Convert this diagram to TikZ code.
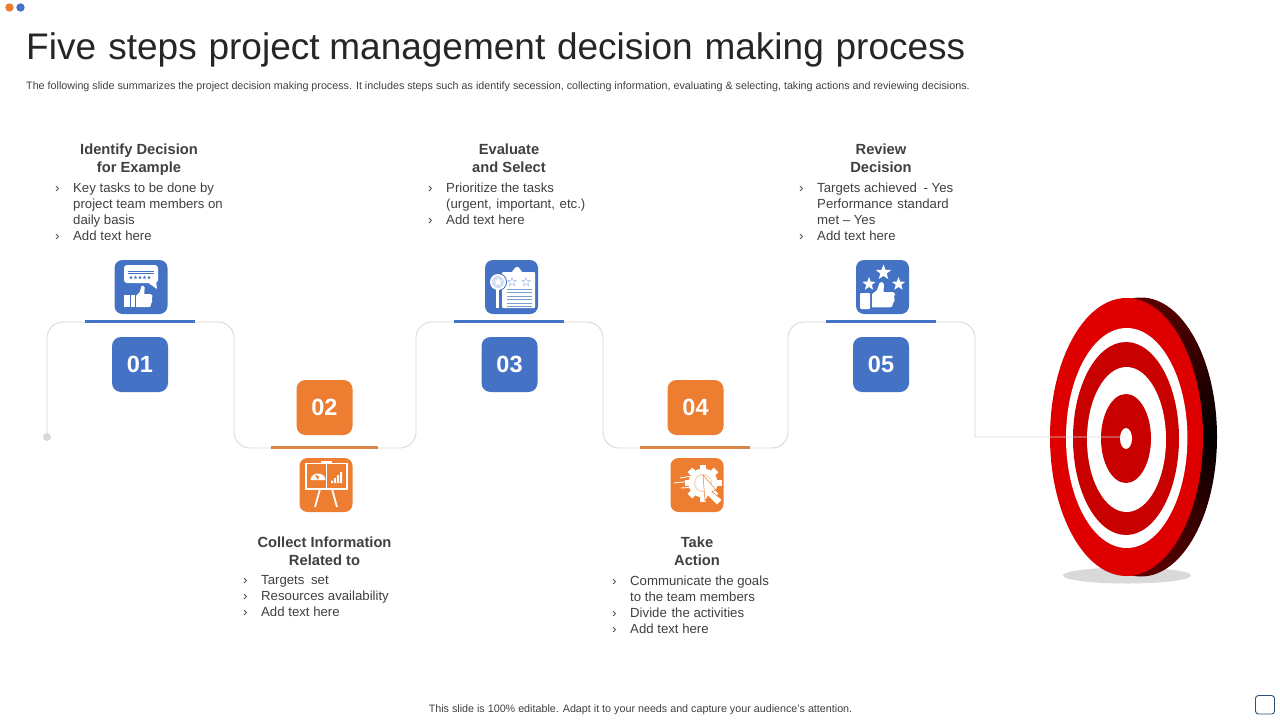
\documentclass[tikz,border=0pt]{standalone}
\usepackage{fontspec}
\setmainfont{Liberation Sans}
\usetikzlibrary{positioning}
\definecolor{stepblue}{HTML}{4472C4}
\definecolor{steporange}{HTML}{ED7D31}
\definecolor{barorange}{HTML}{D98548}
\definecolor{pathgray}{HTML}{D9D9D9}
\definecolor{textdark}{HTML}{404040}
\definecolor{titledark}{HTML}{262626}
\definecolor{targetred}{HTML}{DE0000}
\definecolor{targetdeep}{HTML}{C80000}
\definecolor{slatebox}{HTML}{2F5070}
\tikzset{
  numbox/.style={rounded corners=9pt, minimum width=56pt, minimum height=55pt, inner sep=0pt, text=white, font=\fontsize{23.5}{25}\selectfont\bfseries},
  iconbox/.style={rounded corners=8pt, minimum width=53pt, minimum height=54pt, inner sep=0pt},
  headtext/.style={align=center, anchor=north, text=textdark, font=\fontsize{14.7}{18}\selectfont\bfseries, inner sep=0pt},
  listtext/.style={align=left, text=textdark, anchor=north west, font=\fontsize{13.2}{16}\selectfont, inner sep=0pt},
  smalltext/.style={text=textdark, inner sep=0pt, font=\fontsize{10.74}{12}\selectfont},
  stepbar/.style={line width=3pt},
  pathline/.style={draw=pathgray, line width=.9pt, rounded corners=16pt}
}
% one bullet line, and one line that carries on
\newcommand{\bul}[1]{\makebox[18pt][l]{›}#1}
\newcommand{\cont}[1]{\hspace*{18pt}#1}
\newcommand{\tinystar}[4]{\fill[#4, shift={(#1,#2)}] plot[samples at={0,...,9}, variable=\k] ({-90+36*\k}:{#3*(mod(\k,2)==0?1:.42)}) -- cycle;}
\newcommand{\thumbhand}[4]{\fill[white, shift={(#1,#2)}, xscale=#3, yscale=#4] (0,12) -- (5,8) -- (7.5,1) .. controls (8,-.5) and (11.5,-.5) .. (12,2) -- (11.5,10) -- (20.5,10) .. controls (23.5,10) and (23.5,14) .. (22,15) .. controls (23.5,18) and (22,20) .. (21,21) .. controls (21,24) and (20,25) .. (18,25) -- (0,25) -- cycle;}
\begin{document}
\begin{tikzpicture}[x=1pt, y=-1pt]
\useasboundingbox (0,0) rectangle (1280,720);
\fill[white] (0,0) rectangle (1280,720);

\fill[steporange] (9.5,7.5) circle (4.2);
\fill[stepblue] (20.5,7.5) circle (4.2);
\node[anchor=base west, inner sep=0pt, text=titledark, font=\fontsize{37}{38}\selectfont] (title) at (26,59.5) {Five\hspace{2pt} steps\hspace{1.5pt} project\hspace{-.5pt} management\hspace{1.5pt} decision\hspace{1.5pt} making\hspace{1.5pt} process};
\node[anchor=west, smalltext] (subtitle) at (26,86.5) {The following slide summarizes the project decision making  process. It includes steps such as identify secession, collecting information, evaluating \&  selecting, taking  actions and reviewing decisions.};

% stair line
\coordinate (p0) at (47,437);
\coordinate (p1) at (47,322);
\coordinate (p2) at (234,322);
\coordinate (p3) at (234,448);
\coordinate (p4) at (416,448);
\coordinate (p5) at (416,322);
\coordinate (p6) at (603,322);
\coordinate (p7) at (603,448);
\coordinate (p8) at (788,448);
\coordinate (p9) at (788,322);
\coordinate (p10) at (975,322);
\coordinate (p11) at (975,437);
\coordinate (bullseye) at (1126,437);

% target
\fill[gray!30] (1127,575.5) ellipse (64 and 8);
\shade[top color=targetdeep!45!black, bottom color=targetdeep!45!black, middle color=black] (1141,437) ellipse (76 and 139.5);
\fill[targetred] (1126.5,437) ellipse (76.5 and 139);
\fill[white] (1126.7,438) ellipse (60.7 and 110);
\fill[targetdeep] (1126,438.5) ellipse (53 and 96.5);
\fill[white] (1126.5,439.5) ellipse (39.5 and 72.5);
\fill[targetdeep] (1126,438.5) ellipse (25 and 44.5);
\fill[white] (1126,438.5) ellipse (6 and 10.5);

\draw[pathline] (p0) -- (p1) -- (p2) -- (p3) -- (p4) -- (p5) -- (p6) -- (p7) -- (p8) -- (p9) -- (p10) [sharp corners] -- (p11) -- (bullseye);
\fill[pathgray] (p0) circle (4);

\draw[stepbar, stepblue] (85,321) -- (195,321);
\draw[stepbar, barorange] (271,447) -- (378,447);
\draw[stepbar, stepblue] (454,321) -- (564,321);
\draw[stepbar, barorange] (640,447) -- (750,447);
\draw[stepbar, stepblue] (826,321) -- (936,321);

\node[numbox, fill=stepblue] (num1) at (140,364.5) {01};
\node[numbox, fill=steporange] (num2) at (324.5,407.5) {02};
\node[numbox, fill=stepblue] (num3) at (509.5,364.5) {03};
\node[numbox, fill=steporange] (num4) at (695.5,407.5) {04};
\node[numbox, fill=stepblue] (num5) at (881,364.5) {05};

\node[iconbox, fill=stepblue] (icon1) at (141,287) {};
\node[iconbox, fill=steporange] (icon2) at (326,485) {};
\node[iconbox, fill=stepblue] (icon3) at (511.5,287) {};
\node[iconbox, fill=steporange] (icon4) at (697,485) {};
\node[iconbox, fill=stepblue] (icon5) at (882.5,287) {};

% icon 1
\fill[white, rounded corners=3pt] (124,265) rectangle (158,283);
\fill[white] (147,282) -- (157,289) -- (156,281) -- cycle;
\draw[stepblue, line width=.6pt] (128,271) -- (154,271) (128,273.5) -- (154,273.5);
\foreach \sx in {131,135.5,140,144.5,149} {\tinystar{\sx}{277.5}{1.8}{stepblue}}
\fill[white] (124,295) rectangle (130,307);
\fill[white] (131,295) rectangle (135,307);
\thumbhand{136}{285.5}{.72}{.86}

% icon 2
\draw[white, line width=1.3pt] (306,463.5) rectangle (347,489);
\draw[white, line width=1pt] (326.5,463.5) -- (326.5,489);
\fill[white] (321,461) rectangle (332,463.5);
\draw[white, line width=1.8pt] (320,489) -- (315,507) (332,489) -- (337,507);
\fill[white] (310.5,480) arc[start angle=180, end angle=360, x radius=7.5, y radius=6.5] -- cycle;
\fill[steporange] (318,480) -- (315,475) -- (319,476) -- cycle;
\fill[white] (331,483) rectangle +(2,-2.5) (334,483) rectangle +(2,-5) (337,483) rectangle +(2,-8) (340,483) rectangle +(2,-11);

% icon 3
\fill[white, rounded corners=1pt] (502,272) rectangle (535,308);
\fill[white] (512,272) -- (514,269) -- (516,267) -- (518,267) -- (520,269) -- (522,272) -- cycle;
\tinystar{512}{282}{5}{stepblue!60}
\tinystar{526}{282}{5}{stepblue!60}
\tinystar{512}{282}{3.5}{white}
\tinystar{526}{282}{3.5}{white}
\foreach \ly in {289,292.5,296,299.5,303,306} {\draw[stepblue!70, line width=.7pt] (507,\ly) -- (532,\ly);}
\fill[stepblue] (498,282) circle (9);
\fill[white] (498,282) circle (8);
\fill[stepblue!25] (498,282) circle (6);
\tinystar{498}{282}{4.5}{white}
\fill[white] (495.5,289) rectangle (499,308);

% icon 4
\foreach \ga in {0,45,...,315} {\fill[white, shift={(703,483)}, rotate=\ga] (-3.2,-18.5) rectangle (3.2,-12);}
\fill[white] (703,483) circle (14.5);
\fill[steporange!35] (703,483) circle (9);
\fill[white] (703,483) circle (7.8);
\fill[white, draw=steporange, line width=.5pt] (703,475) -- (716,490) -- (712,491.5) -- (722,500) -- (717,505) -- (708,496) -- (705,501) -- cycle;
\draw[white, line width=.9pt] (680,478) -- (692,476) (674,483) -- (688,481.5) (681,488) -- (690,487.5);

% icon 5
\tinystar{883.5}{272.5}{8}{white}
\tinystar{869}{284}{7}{white}
\tinystar{898.5}{284}{7}{white}
\fill[white, rounded corners=1pt] (860,293) rectangle (870,309);
\thumbhand{872}{282}{1}{1.01}

\node[headtext] (head1) at (139,144) {Identify Decision\\for Example};
\node[listtext] (list1) at (55,182.5) {\bul{Key tasks to be done by}\\\cont{project team members on}\\\cont{daily basis}\\\bul{Add text here}};
\node[headtext] (head2) at (324.5,537) {Collect Information\\Related to};
\node[listtext] (list2) at (243,575.5) {\bul{Targets\hspace{3pt} set}\\\bul{Resources availability}\\\bul{Add text here}};
\node[headtext] (head3) at (509,144) {Evaluate\\and Select};
\node[listtext] (list3) at (428,182.5) {\bul{Prioritize the tasks}\\\cont{(urgent,\hspace{1pt} important,\hspace{1pt} etc.)}\\\bul{Add text here}};
\node[headtext] (head4) at (697,537) {Take\\Action};
\node[listtext] (list4) at (612,575.5) {\bul{Communicate the goals}\\\cont{to the team members}\\\bul{Divide\hspace{1pt} the activities}\\\bul{Add text here}};
\node[headtext] (head5) at (881,144) {Review\\Decision};
\node[listtext] (list5) at (799,182.5) {\bul{Targets achieved\hspace{3pt} - Yes}\\\cont{Performance\hspace{1pt} standard}\\\cont{met – Yes}\\\bul{Add text here}};

\node[smalltext] (footer) at (640.5,709.8) {This slide is 100\% editable.  Adapt it to your needs and capture your audience's attention.};
\draw[draw=slatebox, line width=.9pt, rounded corners=3pt] (1255.5,695.5) rectangle (1274.5,714);
\end{tikzpicture}
\end{document}
